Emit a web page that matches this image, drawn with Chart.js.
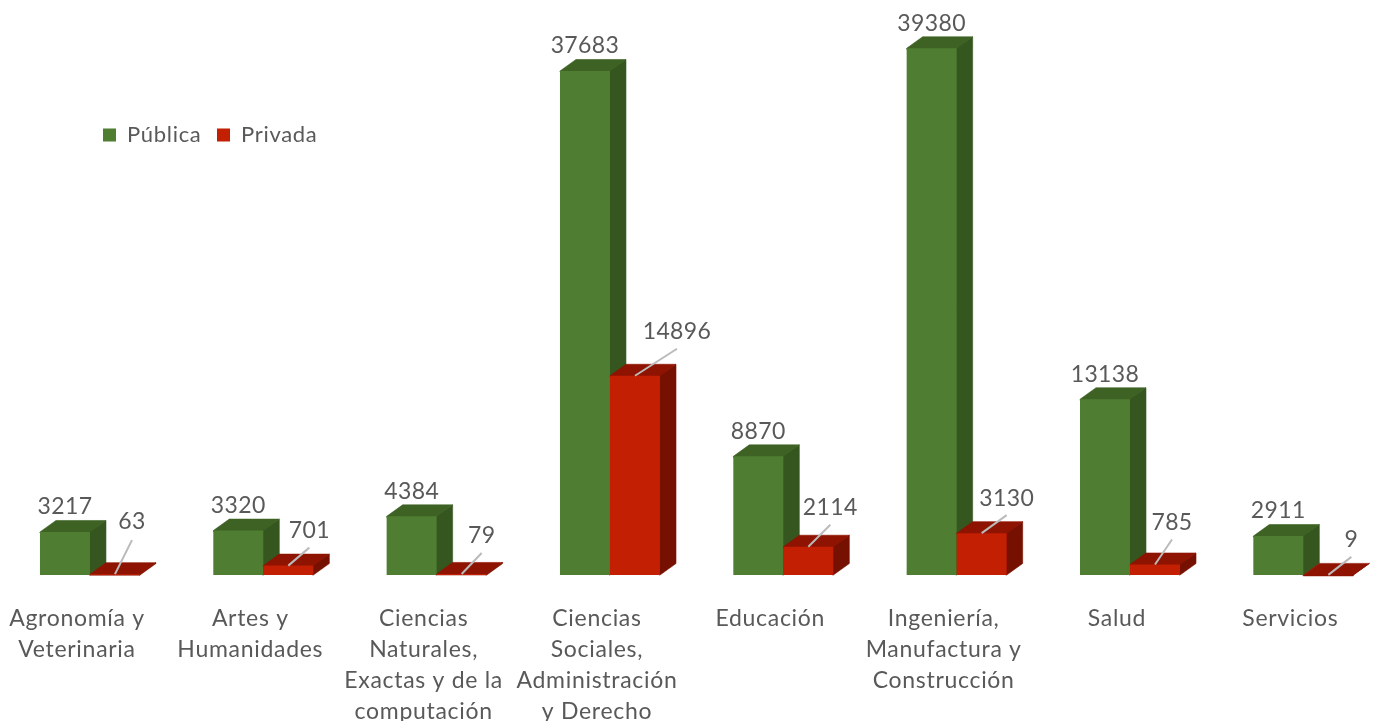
<!DOCTYPE html>
<html lang="es"><head><meta charset="utf-8">
<style>
html,body{margin:0;padding:0;background:#fff;overflow:hidden;width:1374px;height:721px}
#wrap{position:absolute;left:0;top:0;width:1374px;height:721px;overflow:hidden}
canvas{display:block;filter:blur(.45px)}
</style>
<script src="https://cdn.jsdelivr.net/npm/chart.js@4/dist/chart.umd.min.js"></script>
</head><body><div id="wrap"><canvas id="c" width="1400" height="756" style="width:1400px;height:756px"></canvas></div>
<script>
const categories = [
  ["Agronomía y","Veterinaria"],
  ["Artes y","Humanidades"],
  ["Ciencias","Naturales,","Exactas y de la","computación"],
  ["Ciencias","Sociales,","Administración","y Derecho"],
  ["Educación"],
  ["Ingeniería,","Manufactura y","Construcción"],
  ["Salud"],
  ["Servicios"]
];
const publica = [3217,3320,4384,37683,8870,39380,13138,2911];
const privada = [63,701,79,14896,2114,3130,785,9];

// label placement relative to the top-centre of each private bar
const privLabelOffset = [[17,-53],[21,-35],[20,-38],[42,-44],[22,-39],[25,-35],[17,-42],[23,-35]];
const DEPTH_X = 16, DEPTH_Y = 11.5;
const TEXT = '#595959';
const FONT = 'Lato';
const shades = [
  {front:'#4f7e33', top:'#3d6223', side:'#35561f'},
  {front:'#c21f03', top:'#8e1300', side:'#761000'}
];

function drawDepth(chart,index){
  const s = shades[index], c = chart.ctx, base = chart.scales.y.getPixelForValue(0);
  chart.getDatasetMeta(index).data.forEach(b=>{
    const l=b.x-b.width/2, r=b.x+b.width/2, t=b.y;
    c.save();
    c.lineWidth=.6; c.lineJoin='round';
    c.fillStyle=c.strokeStyle=s.side; c.beginPath();
    c.moveTo(r-1,t); c.lineTo(r+DEPTH_X,t-DEPTH_Y); c.lineTo(r+DEPTH_X,base-DEPTH_Y); c.lineTo(r,base); c.lineTo(r-1,base); c.closePath(); c.fill(); c.stroke();
    c.fillStyle=c.strokeStyle=s.top; c.beginPath();
    c.moveTo(l,t+1); c.lineTo(l,t); c.lineTo(l+DEPTH_X,t-DEPTH_Y); c.lineTo(r+DEPTH_X,t-DEPTH_Y); c.lineTo(r,t); c.lineTo(r,t+1); c.closePath(); c.fill(); c.stroke();
    c.restore();
  });
}
const depth3d = {
  id:'depth3d',
  beforeInit(chart){
    const fit = chart.legend.fit;
    chart.legend.fit = function(){ fit.call(this); this.height = 0; };
  },
  beforeDatasetDraw(chart,args){
    if(args.index===1) return false;
    drawDepth(chart,0);
  },
  afterDatasetsDraw(chart){
    drawDepth(chart,1);
    chart.getDatasetMeta(1).data.forEach(b=>b.draw(chart.ctx));
    const c = chart.ctx;
    c.save();
    c.letterSpacing='0.4px';
    c.font = '23px '+FONT; c.textAlign='center'; c.textBaseline='middle';
    chart.getDatasetMeta(0).data.forEach((b,i)=>{
      c.fillStyle=TEXT; c.fillText(String(publica[i]), b.x, b.y-25);
    });
    chart.getDatasetMeta(1).data.forEach((b,i)=>{
      const [dx,dy]=privLabelOffset[i];
      c.strokeStyle='#bababa'; c.lineWidth=2; c.beginPath();
      c.moveTo(b.x,b.y); c.lineTo(b.x+dx, b.y+dy+(i===0?19:17)); c.stroke();
      c.fillStyle=TEXT; c.fillText(String(privada[i]), b.x+dx, b.y+dy);
    });
    c.restore();
  },
  beforeDraw(chart){
    chart.ctx.letterSpacing='0.7px';
    const g = chart.legend;
    g.left=87.5; g.right=g.left+g.width; g.top=108.5; g.bottom=g.top+60;
  }
};

new Chart(document.getElementById('c'),{
  type:'bar',
  data:{labels:categories,datasets:[
    {label:'Pública',data:publica,backgroundColor:shades[0].front},
    {label:'Privada',data:privada,backgroundColor:shades[1].front}
  ]},
  plugins:[depth3d],
  options:{
    responsive:false,animation:false,devicePixelRatio:1,
    layout:{padding:{left:3.3,right:10,top:40,bottom:0}},
    datasets:{bar:{categoryPercentage:0.577,barPercentage:1,borderWidth:0}},
    plugins:{
      tooltip:{enabled:false},
      title:{display:false},
      legend:{display:true,position:'top',align:'start',
        labels:{boxWidth:13,boxHeight:13,padding:15.5,color:TEXT,font:{family:FONT,size:22}}}
    },
    scales:{
      x:{grid:{display:false,drawTicks:false},border:{display:false},
        afterFit(scale){scale.paddingLeft=0;scale.paddingRight=0;},
        ticks:{autoSkip:false,maxRotation:0,minRotation:0,padding:28.5,labelOffset:-13,color:TEXT,
          font:{family:FONT,size:23,lineHeight:31/23}}},
      y:{display:false,min:0,max:40000}
    }
  }
});
</script></body></html>
